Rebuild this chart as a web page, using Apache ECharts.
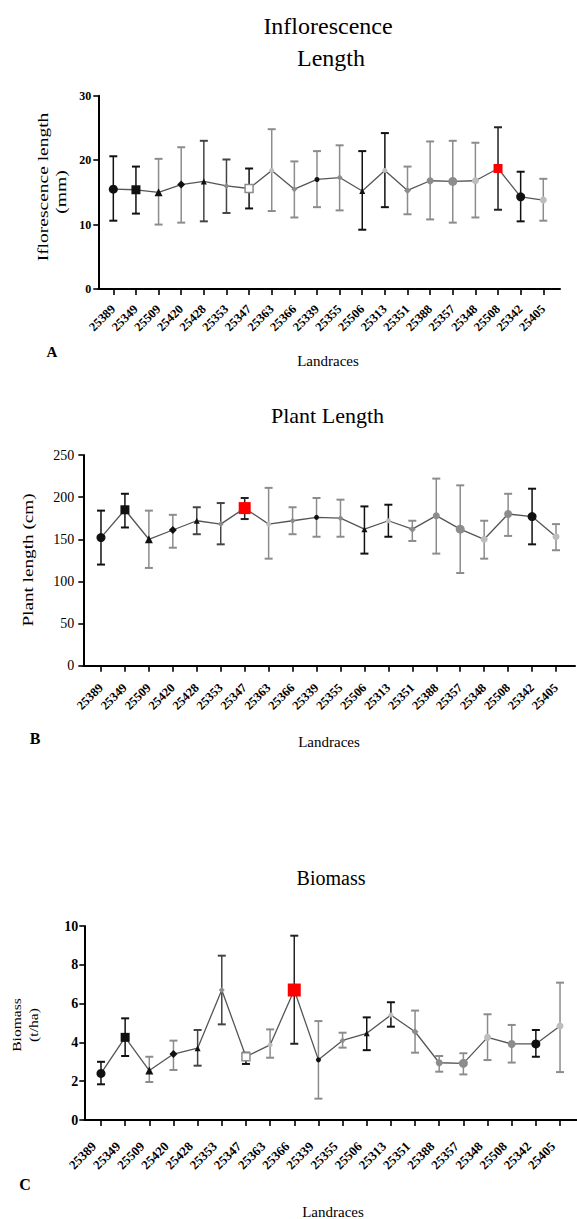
<!DOCTYPE html>
<html><head><meta charset="utf-8">
<script src="https://cdn.jsdelivr.net/npm/echarts@6/dist/echarts.min.js"></script>
<style>html,body{margin:0;padding:0;background:#fff}#c{width:577px;height:1219px}</style>
</head><body><div id="c"></div>
<script>
// ---------- data ----------
const landraces = ['25389','25349','25509','25420','25428','25353','25347','25363','25366','25339','25355','25506','25313','25351','25388','25357','25348','25508','25342','25405'];

const inflMean  = [15.5, 15.4, 15.0, 16.2, 16.7, 16.0, 15.6, 18.4, 15.5, 17.0, 17.3, 15.2, 18.4, 15.3, 16.8, 16.7, 16.8, 18.7, 14.3, 13.8];
const inflUpper = [20.6, 19.0, 20.2, 22.0, 23.0, 20.1, 18.7, 24.8, 19.8, 21.4, 22.3, 21.4, 24.2, 19.0, 22.9, 23.0, 22.7, 25.1, 18.2, 17.1];
const inflLower = [10.6, 11.7, 10.0, 10.3, 10.5, 11.8, 12.5, 12.1, 11.1, 12.7, 12.2, 9.2, 12.7, 11.6, 10.8, 10.3, 11.1, 12.3, 10.5, 10.6];
const inflTicks = [0, 10, 20, 30];

const plantMean  = [152, 185, 150, 161, 172, 168, 187, 168, 172, 176, 175, 162, 172, 162, 178, 162, 150, 180, 177, 153];
const plantUpper = [184, 204, 184, 179, 188, 193, 199, 211, 188, 199, 197, 189, 191, 172, 222, 214, 172, 204, 210, 168];
const plantLower = [120, 164, 116, 140, 156, 144, 174, 127, 156, 153, 153, 133, 153, 148, 133, 110, 127, 154, 144, 137];
const plantTicks = [0, 50, 100, 150, 200, 250];

const bioMean  = [2.4, 4.26, 2.55, 3.4, 3.7, 6.7, 3.26, 3.87, 6.7, 3.1, 4.1, 4.47, 5.41, 4.55, 2.95, 2.92, 4.26, 3.92, 3.92, 4.85];
const bioUpper = [3.0, 5.24, 3.26, 4.09, 4.64, 8.47, 3.47, 4.67, 9.5, 5.1, 4.5, 5.29, 6.07, 5.64, 3.3, 3.44, 5.45, 4.9, 4.64, 7.08];
const bioLower = [1.84, 3.3, 1.96, 2.58, 2.8, 4.93, 2.89, 3.21, 3.93, 1.1, 3.73, 3.6, 4.81, 3.47, 2.49, 2.35, 3.09, 2.96, 3.26, 2.47];
const bioTicks = [0, 2, 4, 6, 8, 10];

// highlighted (red) landrace per panel
const redA = '25508', redB = '25347', redC = '25366';

// ---------- styles ----------
const K = '#111', G = '#8c8c8c', L = '#bdbdbd', D = '#444';
const marks = [
  {s:'circle', z:9, c:K, b:K}, {s:'rect', z:9, c:K, b:K}, {s:'triangle', z:8, c:K, b:G},
  {s:'diamond', z:8, c:K, b:G}, {s:'triangle', z:6, c:K, b:D}, {s:'diamond', z:6, c:G, b:D},
  {s:'rect', z:8, c:G, b:K, open:true}, {s:'circle', z:5, c:L, b:G}, {s:'diamond', z:6, c:G, b:G},
  {s:'circle', z:5, c:K, b:G}, {s:'diamond', z:6, c:G, b:G}, {s:'triangle', z:6, c:K, b:K},
  {s:'circle', z:5, c:L, b:K}, {s:'diamond', z:7, c:G, b:G}, {s:'circle', z:7, c:G, b:G},
  {s:'circle', z:9, c:G, b:G}, {s:'circle', z:7, c:L, b:G}, {s:'circle', z:8, c:G, b:G},
  {s:'circle', z:9, c:K, b:K}, {s:'circle', z:7, c:L, b:G}
];
const SERIF = 'Liberation Serif';

const panels = [
  {mean:inflMean, up:inflUpper, lo:inflLower, ticks:inflTicks, red:redA, redSize:9,
   frame:{left:98.3, top:95.7, width:461.7, height:193.3}, data:{left:102, width:452.6},
   yl:{fontSize:12, fontWeight:'bold', margin:7}, xl:{fontSize:12.5, margin:18, padding:0}},
  {mean:plantMean, up:plantUpper, lo:plantLower, ticks:plantTicks, red:redB, redSize:12,
   frame:{left:83.3, top:455, width:491.7, height:210.7}, data:{left:89.0, width:479},
   yl:{fontSize:14, fontWeight:'normal', margin:9}, xl:{fontSize:12.5, margin:20, padding:0}},
  {mean:bioMean, up:bioUpper, lo:bioLower, ticks:bioTicks, red:redC, redSize:13,
   frame:{left:84.3, top:926, width:492.7, height:194}, data:{left:88.9, width:483.2},
   yl:{fontSize:14, fontWeight:'bold', margin:6}, xl:{fontSize:13, margin:17, padding:10}}
];

const grid = [], xAxis = [], yAxis = [], series = [];
panels.forEach((p, g) => {
  const mn = p.ticks[0], mx = p.ticks[p.ticks.length-1], iv = p.ticks[1]-p.ticks[0];
  const redIdx = landraces.indexOf(p.red);
  grid.push(Object.assign({outerBoundsMode:'none', containLabel:false}, p.frame));
  grid.push({outerBoundsMode:'none', containLabel:false, left:p.data.left, width:p.data.width, top:p.frame.top, height:p.frame.height});
  xAxis.push({gridIndex:2*g, type:'value', min:0, max:1,
    axisLine:{show:true, onZero:false, lineStyle:{color:'#000', width:2}},
    axisTick:{show:false}, axisLabel:{show:false}, splitLine:{show:false}});
  xAxis.push({gridIndex:2*g+1, type:'category', data:landraces, boundaryGap:true,
    axisLine:{show:false}, axisTick:{show:true, alignWithLabel:true, length:6, lineStyle:{color:'#000', width:1.6}},
    axisLabel:{interval:0, rotate:45, fontSize:p.xl.fontSize, fontWeight:'bold', fontFamily:SERIF, color:'#000',
               margin:p.xl.margin, padding:[0, p.xl.padding, 0, 0]},
    splitLine:{show:false}});
  yAxis.push({gridIndex:2*g, type:'value', min:mn, max:mx, interval:iv,
    axisLine:{show:true, lineStyle:{color:'#000', width:2}},
    axisTick:{show:true, length:5, lineStyle:{color:'#000', width:1.6}},
    axisLabel:{fontFamily:SERIF, color:'#000', fontSize:p.yl.fontSize, fontWeight:p.yl.fontWeight, margin:p.yl.margin},
    splitLine:{show:false}});
  yAxis.push({gridIndex:2*g+1, type:'value', min:mn, max:mx, show:false});

  const cap = 4;
  series.push({type:'custom', xAxisIndex:2*g+1, yAxisIndex:2*g+1, z:2, animation:false,
    data:p.lo.map((v,i)=>[i, v, p.up[i]]),
    encode:{x:0, y:[1,2]},
    renderItem(params, api){
      const i = api.value(0);
      const a = api.coord([i, api.value(1)]);
      const b = api.coord([i, api.value(2)]);
      const col = i === redIdx ? '#222' : marks[i].b;
      return {type:'group', children:[
        {type:'line', shape:{x1:a[0], y1:a[1], x2:b[0], y2:b[1]}, style:{stroke:col, lineWidth:1.5}},
        {type:'line', shape:{x1:b[0]-cap, y1:b[1], x2:b[0]+cap, y2:b[1]}, style:{stroke:col, lineWidth:2}},
        {type:'line', shape:{x1:a[0]-cap, y1:a[1], x2:a[0]+cap, y2:a[1]}, style:{stroke:col, lineWidth:2}}
      ]};
    }});
  series.push({type:'line', xAxisIndex:2*g+1, yAxisIndex:2*g+1, z:3, animation:false,
    lineStyle:{color:'#555', width:1.3}, itemStyle:{color:'#555'},
    data:p.mean.map((v,i)=>{
      if (i === redIdx) return {value:v, symbol:'rect', symbolSize:p.redSize, itemStyle:{color:'#ff0000', borderWidth:0}};
      const m = marks[i];
      return m.open
        ? {value:v, symbol:m.s, symbolSize:m.z, itemStyle:{color:'#fff', borderColor:m.c, borderWidth:1.5}}
        : {value:v, symbol:m.s, symbolSize:m.z, itemStyle:{color:m.c, borderWidth:0}};
    })});
});

function txt(text, x, y, size, opt) {
  opt = opt || {};
  return {type:'text', x:x, y:y, rotation:opt.rot||0, scaleX:opt.sx||1, scaleY:1, z:10,
    style:{text:text, fontFamily:SERIF, fontSize:size, fontWeight:opt.bold?'bold':'normal',
           fill:'#000', align:'center', verticalAlign:'middle'}};
}
const V = Math.PI/2;
const graphic = [
  txt('Inflorescence', 328, 26, 24), txt('Length', 331, 58, 24),
  txt('Iflorescence length', 43, 187, 15, {rot:V, sx:1.3}), txt('(mm)', 61.5, 192, 15, {rot:V, sx:1.3}),
  txt('A', 52, 352, 15, {bold:true}), txt('Landraces', 328, 361, 15),
  txt('Plant Length', 327.5, 415.5, 22),
  txt('Plant length (cm)', 28.5, 560, 15, {rot:V, sx:1.28}),
  txt('B', 35, 738, 16, {bold:true}), txt('Landraces', 329, 742, 15),
  txt('Biomass', 331, 878, 20),
  txt('Biomass', 17, 1025, 12, {rot:V, sx:1.3}), txt('(t/ha)', 34, 1025, 12, {rot:V, sx:1.3}),
  txt('C', 25, 1184, 16, {bold:true}), txt('Landraces', 333, 1212, 15)
];

const chart = echarts.init(document.getElementById('c'), null, {renderer:'svg'});
chart.setOption({animation:false, backgroundColor:'#fff', grid, xAxis, yAxis, series, graphic});
</script></body></html>
